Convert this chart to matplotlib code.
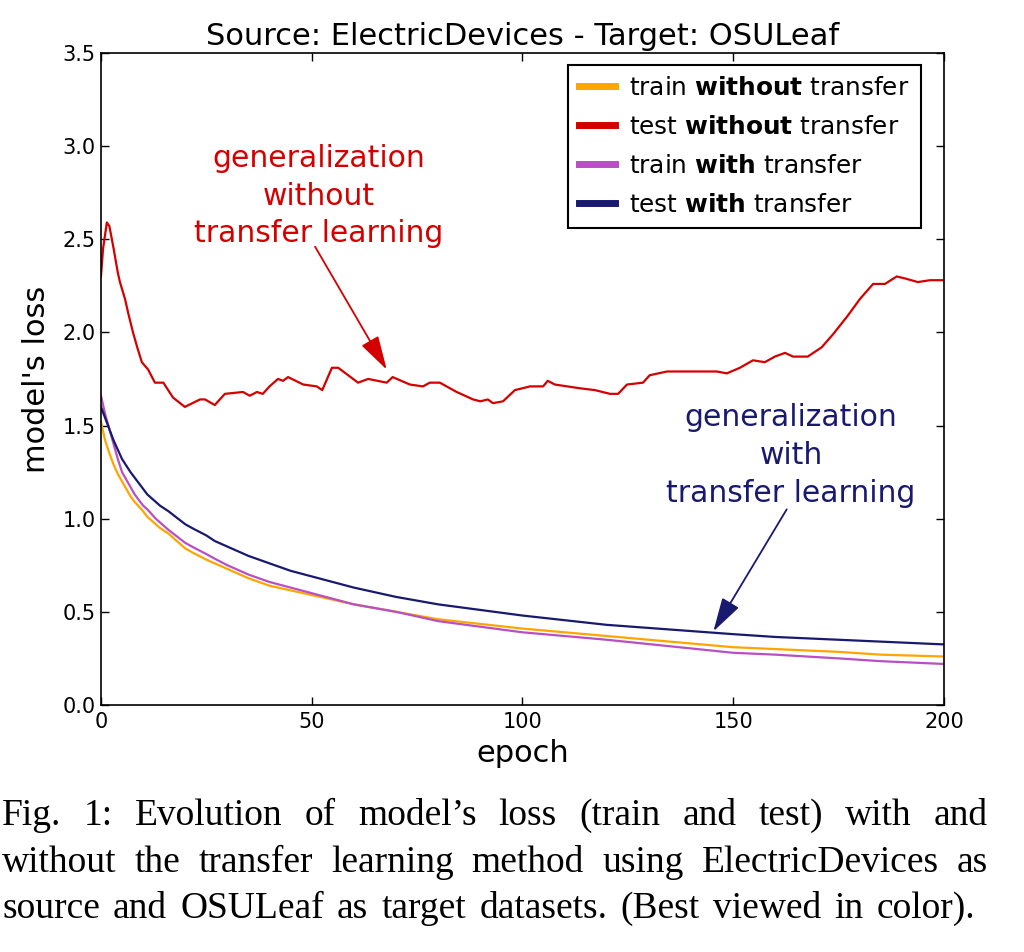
import matplotlib
matplotlib.use('Agg')
import matplotlib.pyplot as plt

plt.rcParams['font.family'] = 'DejaVu Sans'
plt.rcParams['mathtext.fontset'] = 'dejavusans'

# test loss without transfer
ep_test_wo = [0, 0.5, 1.4, 2, 3, 4, 4.5, 5.7, 6.5, 7.6, 8.6, 9.7, 11.2, 12.8, 14.8,
              17.1, 19.9, 23.5, 24.7, 27, 29.4, 33.7, 35.3, 37, 38.4, 40, 42, 43.2,
              44.4, 48, 51.2, 52.5, 54.8, 56.3, 61, 63.4, 67.8, 69.2, 73.3, 76.4, 78,
              80.4, 84.4, 88.3, 90, 91.8, 93, 95.4, 98.2, 101.8, 104.9, 106, 107.7,
              113.6, 117.2, 120.8, 122.7, 124.8, 128.6, 130.2, 134.3, 142.1, 146.1,
              148.5, 151.6, 154.7, 157.5, 159.9, 162.3, 164.2, 167.7, 171, 173.7,
              177.2, 180.1, 183.2, 186, 188.8, 190.7, 193.8, 196.7, 200]
loss_test_wo = [2.30, 2.45, 2.59, 2.57, 2.45, 2.32, 2.27, 2.18, 2.10, 2.00, 1.92, 1.84,
                1.80, 1.73, 1.73, 1.65, 1.60, 1.64, 1.64, 1.61, 1.67, 1.68, 1.66, 1.68,
                1.67, 1.71, 1.75, 1.74, 1.76, 1.72, 1.71, 1.69, 1.81, 1.81, 1.73, 1.75,
                1.73, 1.76, 1.72, 1.71, 1.73, 1.73, 1.68, 1.64, 1.63, 1.64, 1.62, 1.63,
                1.69, 1.71, 1.71, 1.74, 1.72, 1.70, 1.69, 1.67, 1.67, 1.72, 1.73, 1.77,
                1.79, 1.79, 1.79, 1.78, 1.81, 1.85, 1.84, 1.87, 1.89, 1.87, 1.87, 1.92,
                1.99, 2.09, 2.18, 2.26, 2.26, 2.30, 2.29, 2.27, 2.28, 2.28]

# smooth curves
ep_smooth = [0, 1, 2, 3, 4, 5, 6, 7, 8, 9, 10, 11, 12, 13, 14, 16, 18, 20, 22, 25,
             27, 30, 33, 35, 40, 45, 50, 55, 60, 65, 70, 80, 90, 100, 110, 120, 135,
             150, 160, 175, 185, 200]
loss_train_wo = [1.52, 1.42, 1.35, 1.29, 1.24, 1.20, 1.16, 1.12, 1.09, 1.065, 1.04,
                 1.01, 0.99, 0.97, 0.95, 0.92, 0.88, 0.84, 0.815, 0.78, 0.76, 0.73,
                 0.70, 0.68, 0.64, 0.615, 0.59, 0.565, 0.54, 0.52, 0.50, 0.46, 0.435,
                 0.41, 0.39, 0.37, 0.34, 0.31, 0.30, 0.285, 0.27, 0.26]
loss_train_w = [1.66, 1.56, 1.48, 1.40, 1.32, 1.25, 1.21, 1.17, 1.13, 1.10, 1.07,
                1.05, 1.025, 1.00, 0.98, 0.94, 0.905, 0.87, 0.845, 0.81, 0.785, 0.75,
                0.72, 0.70, 0.66, 0.63, 0.60, 0.57, 0.54, 0.52, 0.50, 0.45, 0.42,
                0.39, 0.37, 0.35, 0.315, 0.28, 0.27, 0.25, 0.235, 0.22]
loss_test_w = [1.60, 1.54, 1.48, 1.42, 1.37, 1.32, 1.285, 1.25, 1.22, 1.19, 1.16,
               1.13, 1.11, 1.09, 1.07, 1.04, 1.005, 0.97, 0.945, 0.91, 0.88, 0.85,
               0.82, 0.80, 0.76, 0.72, 0.69, 0.66, 0.63, 0.605, 0.58, 0.54, 0.51,
               0.48, 0.455, 0.43, 0.405, 0.38, 0.365, 0.35, 0.34, 0.325]

c_orange = '#ffa500'
c_red = '#d40000'
c_purple = '#b84fc2'
c_navy = '#191970'

fig = plt.figure(figsize=(10.24, 9.52), dpi=100)
ax = fig.add_axes([0.0986, 0.2595, 0.8232, 0.6849])

ax.plot(ep_smooth, loss_train_wo, color=c_orange, lw=1.6, label=r'train $\bf{without}$ transfer')
ax.plot(ep_test_wo, loss_test_wo, color=c_red, lw=1.6, label=r'test $\bf{without}$ transfer')
ax.plot(ep_smooth, loss_train_w, color=c_purple, lw=1.6, label=r'train $\bf{with}$ transfer')
ax.plot(ep_smooth, loss_test_w, color=c_navy, lw=1.6, label=r'test $\bf{with}$ transfer')

ax.set_xlim(0, 200)
ax.set_ylim(0, 3.5)
ax.set_xticks([0, 50, 100, 150, 200])
ax.set_yticks([0, 0.5, 1.0, 1.5, 2.0, 2.5, 3.0, 3.5])
ax.tick_params(direction='in', top=True, right=True, length=6, width=1, labelsize=15)
ax.tick_params(axis='x', pad=5)
ax.tick_params(axis='y', pad=4)
for s in ax.spines.values():
    s.set_linewidth(1.2)

ax.set_title('Source: ElectricDevices - Target: OSULeaf', fontsize=22, pad=6)
ax.set_xlabel('epoch', fontsize=22, labelpad=5)
ax.set_ylabel("model's loss", fontsize=22, labelpad=8)

leg = ax.legend(loc='upper right', bbox_to_anchor=(0.9727, 0.9816), borderaxespad=0,
                fontsize=17.8, handlelength=1.45, handletextpad=0.6, labelspacing=0.6,
                borderpad=0.45, fancybox=False, framealpha=1)
leg.get_frame().set_edgecolor('black')
leg.get_frame().set_linewidth(1.5)
for h in leg.get_lines():
    h.set_linewidth(5)

# annotations
arrow_kw = dict(arrowstyle='-|>,head_length=0.7,head_width=0.2', lw=1.3,
                mutation_scale=30, shrinkA=0, shrinkB=0)
ax.text(51.6, 2.731, 'generalization\nwithout\ntransfer learning', color=c_red,
        fontsize=21.5, ha='center', va='center', linespacing=1.37)
ax.annotate('', xy=(67.8, 1.80), xytext=(50.8, 2.46),
            arrowprops=dict(color=c_red, **arrow_kw))
ax.text(163.7, 1.339, 'generalization\nwith\ntransfer learning', color=c_navy,
        fontsize=21.5, ha='center', va='center', linespacing=1.37)
ax.annotate('', xy=(145.3, 0.395), xytext=(162.7, 1.05),
            arrowprops=dict(color=c_navy, **arrow_kw))

# caption, justified line by line
cap_lines = ['Fig. 1: Evolution of model\u2019s loss (train and test) with and',
             'without the transfer learning method using ElectricDevices as',
             'source and OSULeaf as target datasets. (Best viewed in color).']
cap_base = [825, 872, 918]
cap_right = [988, 988, 975]
W, H = 1024, 952
r = fig.canvas.get_renderer()
for line, yb, xr in zip(cap_lines, cap_base, cap_right):
    words = line.split(' ')
    ts = [fig.text(0, 1 - yb / H, w, fontsize=27, family='Liberation Serif',
                   va='baseline', ha='left') for w in words]
    widths = [t.get_window_extent(r).width for t in ts]
    gap = (xr - 2 - sum(widths)) / (len(words) - 1)
    x = 2
    for t, w in zip(ts, widths):
        t.set_x(x / W)
        x += w + gap

fig.savefig('out.png', dpi=100, facecolor='white')
